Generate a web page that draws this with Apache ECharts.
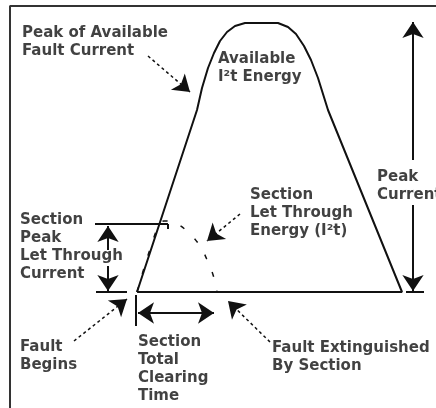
<!DOCTYPE html>
<html>
<head>
<meta charset="utf-8">
<script src="https://cdn.jsdelivr.net/npm/echarts@6/dist/echarts.min.js"></script>
<style>
  html, body { margin: 0; padding: 0; background: #fff; }
  #chart { width: 436px; height: 408px; }
</style>
</head>
<body>
<div id="chart"></div>
<script>
// diagram drawn in a 436 x 408 value space (y grows downward)
const frame = [[10, 408], [10, 6], [436, 6]];
const availableCurve = [
  [137, 292], [197, 110], [202, 88], [208, 68], [214, 53], [220, 41], [227, 32], [235, 26], [245, 23],
  [278, 23], [288, 27], [296, 34], [304, 46], [311, 60], [318, 78], [328, 110], [402, 292], [137, 292]
];
const letThroughCurve = [
  [137, 292], [158, 226], [164, 221], [175, 223], [188, 232], [200, 246], [208, 262], [214, 278], [217, 292]
];
const guideLines = [
  [[95, 224], [168, 224]], [[168, 224], [168, 229]],
  [[96, 292], [127, 292]], [[136, 295], [136, 326]], [[406, 292], [424, 292]]
];
const solidArrows = [
  [[108, 250], [108, 226]], [[108, 266], [108, 291]],
  [[413, 160], [413, 22]], [[413, 205], [413, 291]],
  [[176, 313], [138, 313]], [[176, 313], [214, 313]]
];
const dashedArrows = [
  [[148, 56], [190, 92]], [[74, 341], [127, 299]],
  [[270, 342], [228, 301]], [[240, 214], [207, 241]]
];
const labels = [
  { x: 22, y: 24, text: 'Peak of Available\nFault Current' },
  { x: 218, y: 50, text: 'Available\nI²t Energy' },
  { x: 20, y: 211, text: 'Section\nPeak\nLet Through\nCurrent' },
  { x: 377, y: 168, text: 'Peak\nCurrent' },
  { x: 250, y: 186, text: 'Section\nLet Through\nEnergy (I²t)' },
  { x: 20, y: 338, text: 'Fault\nBegins' },
  { x: 138, y: 333, text: 'Section\nTotal\nClearing\nTime' },
  { x: 272, y: 339, text: 'Fault Extinguished\nBy Section' }
];

const ink = '#111';
const chart = echarts.init(document.getElementById('chart'));

chart.setOption({
  animation: false,
  grid: { left: 0, right: 0, top: 0, bottom: 0 },
  xAxis: { type: 'value', min: 0, max: 436, show: false },
  yAxis: { type: 'value', min: 0, max: 408, inverse: true, show: false },
  series: [
    {
      type: 'line', data: frame, showSymbol: false,
      lineStyle: { color: '#333', width: 2 }
    },
    {
      type: 'line', data: availableCurve, showSymbol: false,
      lineStyle: { color: ink, width: 2 }
    },
    {
      type: 'line', data: letThroughCurve, showSymbol: false, smooth: 0.4,
      lineStyle: { color: ink, width: 1.5, type: [5, 14] }
    },
    {
      type: 'lines', coordinateSystem: 'cartesian2d',
      data: guideLines.map(c => ({ coords: c })),
      lineStyle: { color: ink, width: 2, opacity: 1 }
    },
    {
      type: 'lines', coordinateSystem: 'cartesian2d',
      symbol: ['none', 'arrow'], symbolSize: [13, 16],
      data: solidArrows.map(c => ({ coords: c })),
      lineStyle: { color: ink, width: 2, opacity: 1 }
    },
    {
      type: 'lines', coordinateSystem: 'cartesian2d',
      symbol: ['none', 'arrow'], symbolSize: [13, 16],
      data: dashedArrows.map(c => ({ coords: c })),
      lineStyle: { color: ink, width: 1.5, type: [3, 3], opacity: 1 }
    },
    {
      type: 'scatter', symbolSize: 0,
      data: labels.map(l => ({ value: [l.x, l.y], name: l.text })),
      label: {
        show: true, position: [0, 0], align: 'left', verticalAlign: 'top',
        formatter: p => p.name,
        fontFamily: 'DejaVu Sans', fontWeight: 'bold', fontSize: 15,
        lineHeight: 18, color: ink
      }
    }
  ]
});
</script>
</body>
</html>
